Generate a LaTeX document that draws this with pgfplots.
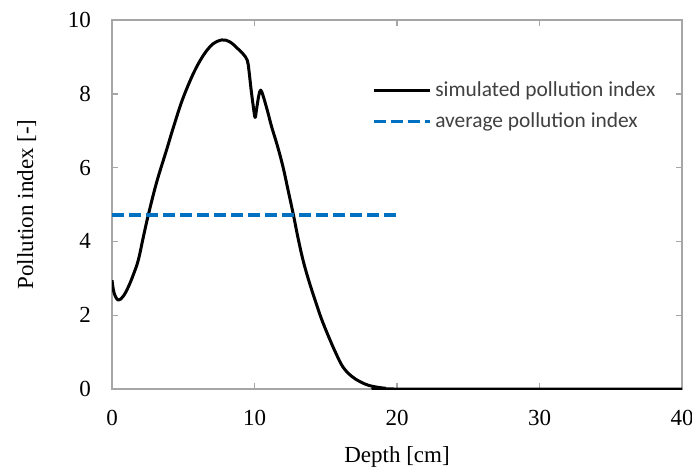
\documentclass[border=0pt]{standalone}
\usepackage{fontspec}
\setmainfont{Liberation Serif}
\newfontfamily\legfont{Carlito}
\usepackage{pgfplots}
\pgfplotsset{compat=1.18}
\usetikzlibrary{calc}
\definecolor{framegray}{HTML}{A6A6A6}
\definecolor{avgblue}{HTML}{0070C0}
\definecolor{legtext}{HTML}{404040}

\begin{document}
\begin{tikzpicture}
\begin{axis}[
  name=ax,
  scale only axis,
  width=285pt, height=184.5pt,
  xmin=0, xmax=40, ymin=0, ymax=10,
  xtick={0,10,20,30,40},
  ytick={0,2,4,6,8,10},
  tick align=inside,
  major tick length=3pt,
  tick style={framegray, line width=0.7pt},
  axis line style={framegray, line width=0.8pt},
  /pgf/number format/assume math mode=true,
  font=\fontsize{11.5}{13.5}\selectfont,
  yticklabel style={xshift=-7pt},
  xticklabel style={yshift=-7pt},
  xlabel={Depth [cm]},
  ylabel={Pollution index [-]},
  xlabel style={yshift=-3.5pt},
  ylabel style={yshift=9pt},
  legend cell align=left,
  legend style={draw=none, fill=none, at={(0.455,0.845)}, anchor=north west,
    font=\legfont\fontsize{10.7}{12.5}\selectfont, text=legtext,
    row sep=2.5pt, inner sep=0pt},
  legend image code/.code={\draw[#1] (0pt,0pt) -- (28pt,0pt);},
]
% simulated index
\addplot[black, line width=1.5pt, line join=round, smooth, tension=0.6] coordinates {
  (0,2.95) (0.15,2.6) (0.44,2.41) (0.8,2.52) (1.15,2.77) (1.5,3.1)
  (1.85,3.5) (2.2,4.12) (2.55,4.72) (3.13,5.6) (3.83,6.48) (4.30,7.08)
  (5.0,7.9) (5.94,8.73) (6.88,9.28) (7.7,9.46) (8.3,9.4) (8.75,9.25)
  (9.2,9.08) (9.5,8.9) (9.62,8.6) (9.75,8.15) (9.9,7.7) (10.04,7.36)
  (10.15,7.6) (10.3,7.95) (10.43,8.10) (10.6,7.95) (10.9,7.55) (11.2,7.11)
  (11.6,6.6) (12.0,6.02) (12.35,5.4) (12.73,4.72) (13.05,4.1) (13.4,3.5)
  (13.8,2.95) (14.25,2.41) (14.7,1.9) (15.2,1.42) (15.7,0.98) (16.2,0.6)
  (16.8,0.35) (17.4,0.2) (18.0,0.1) (18.6,0.05) (19.2,0.02) (20,0) (40,0)
};
\addlegendentry{simulated pollution index}
\addplot[avgblue, line width=1.75pt, dash pattern=on 6pt off 2.5pt] coordinates {
  (0,4.72) (20,4.72)
};
\addlegendentry{average pollution index}
\end{axis}
\pgfresetboundingbox
\path (ax.south west) ++(-56pt,-41pt) rectangle ($(ax.north east)+(5pt,10pt)$);
\end{tikzpicture}
\end{document}
